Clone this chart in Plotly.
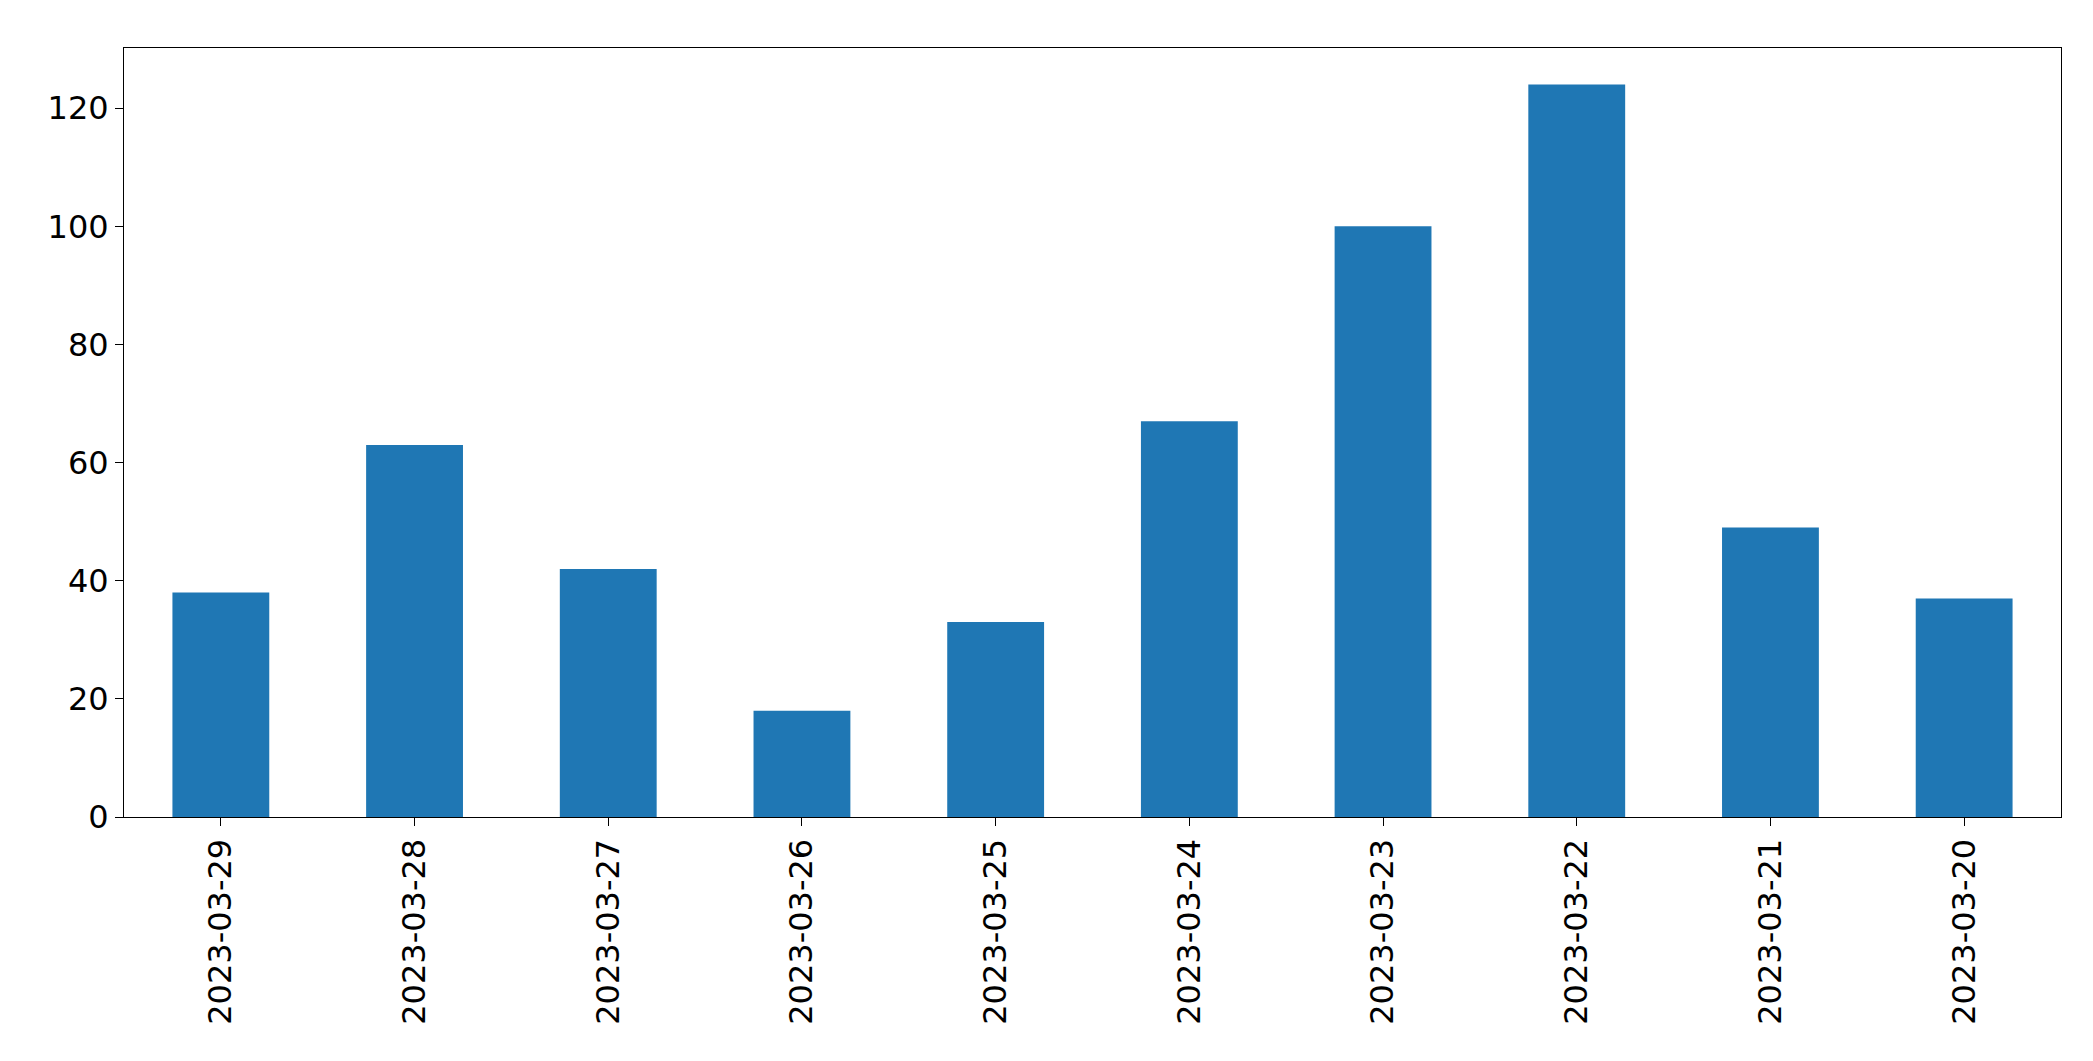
import plotly.graph_objects as go

dates = ["2023-03-29","2023-03-28","2023-03-27","2023-03-26","2023-03-25",
         "2023-03-24","2023-03-23","2023-03-22","2023-03-21","2023-03-20"]
counts = [38, 63, 42, 18, 33, 67, 100, 124, 49, 37]

fig = go.Figure(go.Bar(x=dates, y=counts, width=0.5, marker_color="#1f77b4",
                       marker_line_width=0))
fig.update_layout(
    width=2093, height=1061, plot_bgcolor="white", paper_bgcolor="white",
    margin=dict(l=116, r=40, t=40, b=252), showlegend=False,
    font=dict(family="DejaVu Sans", size=32, color="black"),
)
fig.update_xaxes(type="category", range=[-0.5, 9.5], tickangle=-90,
                 showline=True, linecolor="black", mirror=True,
                 ticks="outside", ticklen=8, tickcolor="black")
fig.update_yaxes(range=[0, 130.2], tickvals=[0,20,40,60,80,100,120],
                 showgrid=False, zeroline=False,
                 showline=True, linecolor="black", mirror=True,
                 ticks="outside", ticklen=8, tickcolor="black")
fig.write_html("out.html")
